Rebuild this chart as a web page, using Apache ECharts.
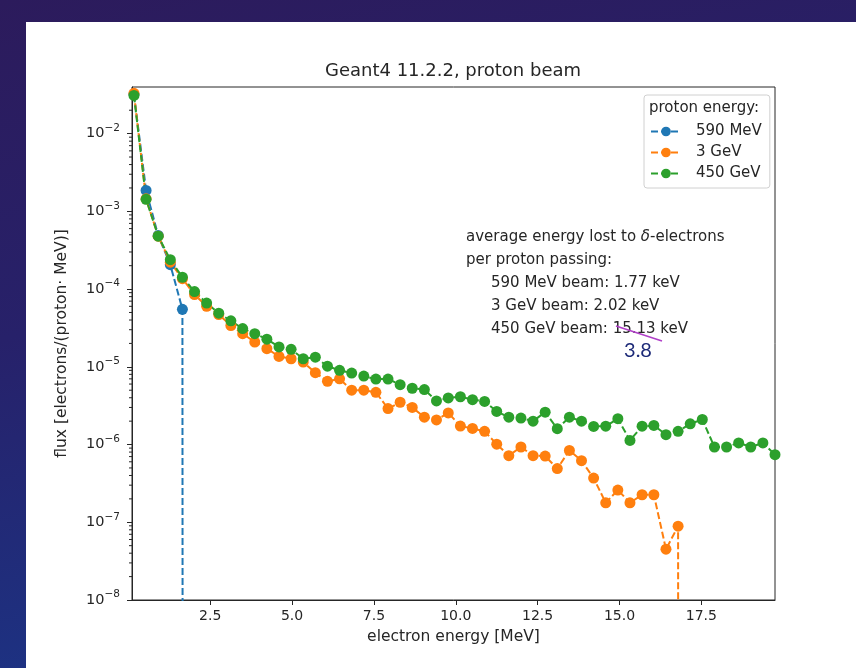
<!DOCTYPE html>
<html>
<head>
<meta charset="utf-8">
<title>Geant4 11.2.2, proton beam</title>
<script src="https://cdn.jsdelivr.net/npm/echarts@6/dist/echarts.min.js"></script>
<style>
  html, body { margin: 0; padding: 0; width: 856px; height: 668px; overflow: hidden; }
  body { background: linear-gradient(168deg, #2c1b5c 0%, #27216a 40%, #183a8e 100%); position: relative; }
  #panel { position: absolute; left: 26px; top: 22px; right: 0; bottom: 0; background: #ffffff; }
  #chart { position: absolute; left: 0; top: 0; width: 856px; height: 668px; }
</style>
</head>
<body>
<div id="panel"></div>
<div id="chart"></div>
<script>
// electron energy bin centres [MeV]
const energy = [0.17, 0.54, 0.91, 1.28, 1.65, 2.02, 2.39, 2.76, 3.13, 3.49,
  3.86, 4.23, 4.60, 4.97, 5.34, 5.71, 6.08, 6.45, 6.82, 7.19,
  7.56, 7.93, 8.30, 8.67, 9.04, 9.41, 9.77, 10.14, 10.51, 10.88,
  11.25, 11.62, 11.99, 12.36, 12.73, 13.10, 13.47, 13.84, 14.21, 14.58,
  14.95, 15.32, 15.69, 16.05, 16.42, 16.79, 17.16, 17.53, 17.90, 18.27,
  18.64, 19.01, 19.38, 19.75];

// delta-electron flux [electrons/(proton MeV)] per proton beam energy
const flux590MeV = [3.2e-2, 1.86e-3, 4.9e-4, 2.06e-4, 5.5e-5, 0, 0, 0, 0, 0,
  0, 0, 0, 0, 0, 0, 0, 0, 0, 0,
  0, 0, 0, 0, 0, 0, 0, 0, 0, 0,
  0, 0, 0, 0, 0, 0, 0, 0, 0, 0,
  0, 0, 0, 0, 0, 0, 0, 0, 0, 0,
  0, 0, 0, 0];
const flux3GeV = [3.3e-2, 1.45e-3, 4.8e-4, 2.22e-4, 1.36e-4, 8.5e-5, 6.0e-5, 4.7e-5, 3.4e-5, 2.67e-5,
  2.08e-5, 1.71e-5, 1.36e-5, 1.27e-5, 1.15e-5, 8.4e-6, 6.5e-6, 7.0e-6, 5.0e-6, 5.0e-6,
  4.7e-6, 2.9e-6, 3.5e-6, 3.0e-6, 2.25e-6, 2.07e-6, 2.55e-6, 1.73e-6, 1.61e-6, 1.48e-6,
  1.01e-6, 7.2e-7, 9.3e-7, 7.2e-7, 7.1e-7, 4.9e-7, 8.4e-7, 6.2e-7, 3.7e-7, 1.78e-7,
  2.6e-7, 1.78e-7, 2.26e-7, 2.26e-7, 4.5e-8, 8.9e-8, 0, 0, 0, 0,
  0, 0, 0, 0];
const flux450GeV = [3.1e-2, 1.43e-3, 4.8e-4, 2.39e-4, 1.42e-4, 9.3e-5, 6.6e-5, 4.9e-5, 3.9e-5, 3.1e-5,
  2.67e-5, 2.27e-5, 1.80e-5, 1.68e-5, 1.27e-5, 1.33e-5, 1.02e-5, 9.0e-6, 8.3e-6, 7.6e-6,
  6.95e-6, 6.95e-6, 5.9e-6, 5.3e-6, 5.1e-6, 3.64e-6, 3.98e-6, 4.12e-6, 3.78e-6, 3.59e-6,
  2.67e-6, 2.25e-6, 2.19e-6, 2.0e-6, 2.61e-6, 1.6e-6, 2.25e-6, 2.0e-6, 1.71e-6, 1.72e-6,
  2.15e-6, 1.13e-6, 1.72e-6, 1.76e-6, 1.34e-6, 1.48e-6, 1.85e-6, 2.1e-6, 9.3e-7, 9.3e-7,
  1.05e-6, 9.3e-7, 1.05e-6, 7.4e-7];

const seriesNames = ['590 MeV', '3 GeV', '450 GeV'];
const seriesColors = ['#1f77b4', '#ff7f0e', '#2ca02c'];

// axis ticks
const xTicks = [2.5, 5, 7.5, 10, 12.5, 15, 17.5];
const yMajorTicks = [1e-8, 1e-7, 1e-6, 1e-5, 1e-4, 1e-3, 1e-2];
const yMinorMultipliers = [2, 3, 4, 5, 6, 7, 8, 9];

const X_MIN = 0.11, X_MAX = 19.75;
const Y_MIN = 1e-8, Y_MAX = 0.0398;

// empty bins are pushed far below the axis, the way a clipped log scale treats zero
const LOG_FLOOR = 1e-300;
const pairs = vals => energy.map((e, i) => [e, vals[i] > 0 ? vals[i] : LOG_FLOOR]);

const yMinorTicks = [];
yMajorTicks.forEach(d => yMinorMultipliers.forEach(m => {
  const v = m * d;
  if (v < Y_MAX) yMinorTicks.push(v);
}));

function powLabel(v) {
  if (!yMajorTicks.some(t => Math.abs(Math.log10(t) - Math.log10(v)) < 1e-6)) return '';
  const n = Math.round(Math.log10(v));
  return '{b|10}{s|' + String(n).replace('-', '\u2212') + '}';
}

const FONT = 'DejaVu Sans';
const INK = '#262626';
const TXT = '15px "DejaVu Sans"';

function lineSeries(name, vals, color) {
  return {
    name: name,
    type: 'line',
    data: pairs(vals),
    symbol: 'circle',
    symbolSize: 11,
    showAllSymbol: true,
    clip: true,
    lineStyle: { color: color, width: 2, type: [7, 3] },
    itemStyle: { color: color },
    emphasis: { disabled: true },
    animation: false
  };
}

const chart = echarts.init(document.getElementById('chart'), null, { renderer: 'canvas' });

chart.setOption({
  backgroundColor: 'transparent',
  animation: false,
  textStyle: { fontFamily: FONT },
  grid: {
    left: 132, top: 87, width: 643, height: 513,
    show: true, borderColor: INK, borderWidth: 1,
    containLabel: false, outerBoundsMode: 'none'
  },
  xAxis: {
    type: 'value', min: X_MIN, max: X_MAX,
    axisLine: { show: true, onZero: false, lineStyle: { color: INK, width: 1 } },
    axisTick: { show: true, length: 5, customValues: xTicks, lineStyle: { color: INK } },
    axisLabel: { customValues: xTicks, fontSize: 14, color: INK, margin: 9, fontFamily: FONT,
      formatter: v => v.toFixed(1) },
    splitLine: { show: false },
    name: 'electron energy [MeV]', nameLocation: 'middle', nameGap: 29,
    nameTextStyle: { fontSize: 15.5, color: INK, fontFamily: FONT }
  },
  yAxis: {
    type: 'log', logBase: 10, min: Y_MIN, max: Y_MAX,
    axisLine: { show: true, onZero: false, lineStyle: { color: INK, width: 1 } },
    axisTick: { show: true, length: 5, lineStyle: { color: INK } },
    axisLabel: {
      formatter: powLabel, showMaxLabel: false, margin: 12, color: INK,
      rich: {
        b: { fontSize: 14.5, fontFamily: FONT, color: INK, lineHeight: 22 },
        s: { fontSize: 10.5, fontFamily: FONT, color: INK, lineHeight: 12, verticalAlign: 'top' }
      }
    },
    splitLine: { show: false },
    name: 'flux [electrons/(proton\u00B7 MeV)]', nameLocation: 'middle', nameGap: 62,
    nameTextStyle: { fontSize: 15.5, color: INK, fontFamily: FONT }
  },
  legend: {
    data: seriesNames,
    orient: 'vertical',
    left: 644, top: 95,
    padding: [29, 8, 7, 6],
    itemWidth: 30, itemHeight: 12, itemGap: 6,
    borderColor: '#d0d0d0', borderWidth: 1, borderRadius: 3,
    backgroundColor: 'rgba(255,255,255,0.8)',
    textStyle: { fontSize: 15, color: INK, fontFamily: FONT, padding: [0, 0, 0, 10] },
    selectedMode: false
  },
  graphic: [
    { type: 'text', x: 453, y: 71, style: { text: 'Geant4 11.2.2, proton beam', font: '18px "DejaVu Sans"',
        fill: INK, align: 'center', verticalAlign: 'middle' } },
    { type: 'text', x: 649, y: 108, z: 100, style: { text: 'proton energy:', font: TXT,
        fill: INK, align: 'left', verticalAlign: 'middle' } },
    { type: 'text', x: 466, y: 237, style: {
        text: 'average energy lost to {i|\u03B4}-electrons', font: TXT, fill: INK,
        verticalAlign: 'middle',
        rich: { i: { font: 'italic 15px "DejaVu Sans"', fill: INK } } } },
    { type: 'text', x: 466, y: 260, style: { text: 'per proton passing:', font: TXT,
        fill: INK, verticalAlign: 'middle' } },
    { type: 'text', x: 491, y: 283, style: { text: '590 MeV beam: 1.77 keV', font: TXT,
        fill: INK, verticalAlign: 'middle' } },
    { type: 'text', x: 491, y: 306, style: { text: '3 GeV beam: 2.02 keV', font: TXT,
        fill: INK, verticalAlign: 'middle' } },
    { type: 'text', x: 491, y: 329, style: { text: '450 GeV beam: 15.13 keV', font: TXT,
        fill: INK, verticalAlign: 'middle' } },
    { type: 'line', z: 110, shape: { x1: 616, y1: 326, x2: 662, y2: 341 },
      style: { stroke: '#b040c8', lineWidth: 1.6 } },
    { type: 'text', x: 638, y: 351, z: 110, style: { text: '3.8', font: '20px Lato', fill: '#1d2a78',
        align: 'center', verticalAlign: 'middle' } }
  ],
  series: [
    lineSeries(seriesNames[0], flux590MeV, seriesColors[0]),
    lineSeries(seriesNames[1], flux3GeV, seriesColors[1]),
    lineSeries(seriesNames[2], flux450GeV, seriesColors[2]),
    {
      // minor log ticks on the flux axis
      type: 'custom',
      silent: true,
      clip: false,
      data: yMinorTicks.map(v => [X_MIN, v]),
      renderItem: (params, api) => {
        const p = api.coord([api.value(0), api.value(1)]);
        return {
          type: 'line',
          shape: { x1: p[0] - 3, y1: p[1], x2: p[0], y2: p[1] },
          style: { stroke: INK, lineWidth: 1 }
        };
      },
      animation: false
    }
  ]
});
</script>
</body>
</html>
